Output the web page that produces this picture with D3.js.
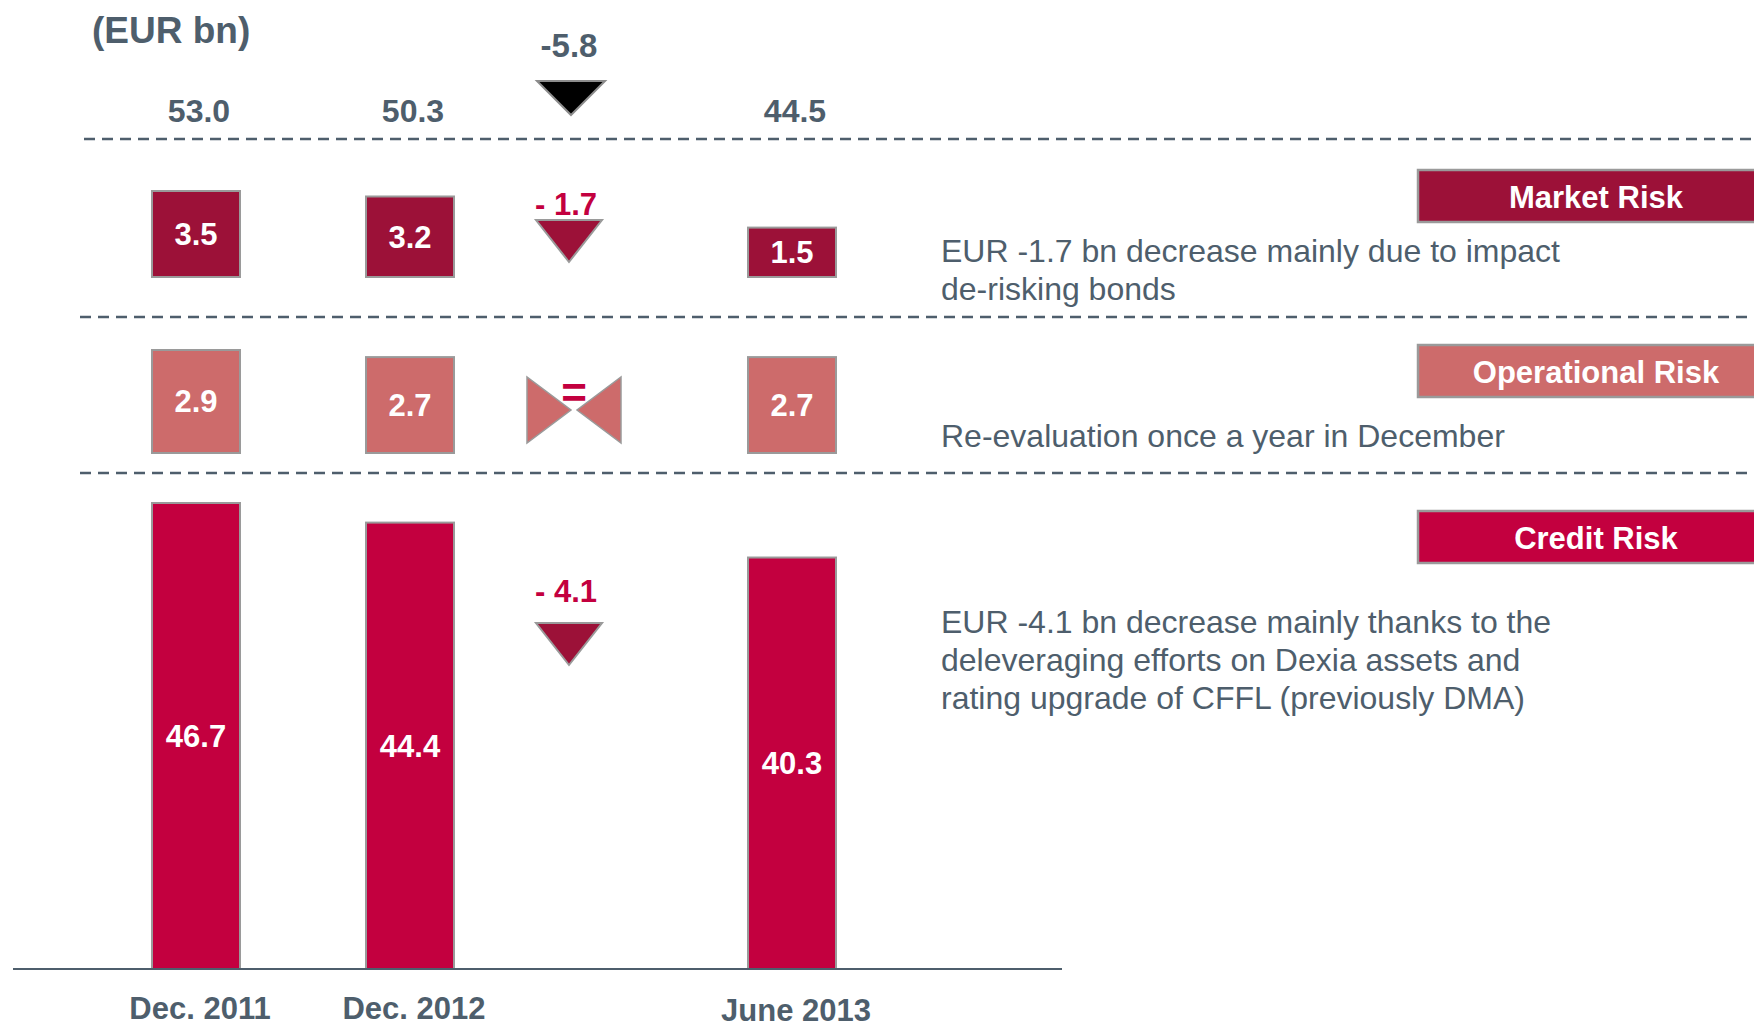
<!DOCTYPE html>
<html>
<head>
<meta charset="utf-8">
<script src="https://cdn.jsdelivr.net/npm/d3@7"></script>
<style>
    body { margin: 0; background: #fff; }
    svg { display: block; font-family: "Liberation Sans", Arial, sans-serif; }
</style>
</head>
<body>
<svg width="1754" height="1030"></svg>
<script>
// chart values
var periods = ["Dec. 2011", "Dec. 2012", "June 2013"];
var totals = [53.0, 50.3, 44.5];
var totalChange = -5.8;
var marketRisk = [3.5, 3.2, 1.5];
var operationalRisk = [2.9, 2.7, 2.7];
var creditRisk = [46.7, 44.4, 40.3];
var riskNames = ["Market Risk", "Operational Risk", "Credit Risk"];
var riskChanges = [-1.7, 0, -4.1];
var marketComment = ["EUR -1.7 bn decrease mainly due to impact", "de-risking bonds"];
var operationalComment = ["Re-evaluation once a year in December"];
var creditComment = ["EUR -4.1 bn decrease mainly thanks to the",
    "deleveraging efforts on Dexia assets and",
    "rating upgrade of CFFL (previously DMA)"];

var svg = d3.select("svg"),
    width = +svg.attr("width"),
    height = +svg.attr("height");

var slate = "#4e5e6c",
    red = "#c3003f",
    border = "#9a9a9a";

// column centres: three periods plus the change column
var x = d3.scaleOrdinal()
    .domain([periods[0], periods[1], "change", periods[2]])
    .range([196, 410, 571, 792]);
var barWidth = 88;

// one band per risk type, each with its own height scale
var rows = [
    {name: riskNames[0], values: marketRisk, change: riskChanges[0], comment: marketComment,
     color: "#9c1138", base: 277, h: d3.scaleLinear().domain([-1.2, 3.5]).range([0, 86]),
     labelY: 170, changeY: 204, triY: 220, commentY: 251},
    {name: riskNames[1], values: operationalRisk, change: riskChanges[1], comment: operationalComment,
     color: "#cd6b6b", base: 453, h: d3.scaleLinear().domain([0, 2.9]).range([0, 103]),
     labelY: 345, changeY: 410, triY: 0, commentY: 436},
    {name: riskNames[2], values: creditRisk, change: riskChanges[2], comment: creditComment,
     color: "#c3003f", base: 969, h: d3.scaleLinear().domain([-8, 46.7]).range([0, 466]),
     labelY: 511, changeY: 591, triY: 623, commentY: 622}
];

// dashed separators
var separators = [{y: 139, x1: 84}, {y: 317, x1: 80}, {y: 473, x1: 80}];
svg.selectAll(".sep")
    .data(separators)
    .enter().append("line")
    .attr("class", "sep")
    .attr("x1", function(d) { return d.x1; })
    .attr("x2", width)
    .attr("y1", function(d) { return d.y; })
    .attr("y2", function(d) { return d.y; })
    .attr("stroke", slate)
    .attr("stroke-width", 2.5)
    .attr("stroke-dasharray", "11,7");

// unit
svg.append("text")
    .attr("x", 92)
    .attr("y", 30)
    .attr("dy", ".35em")
    .attr("font-size", 37)
    .attr("font-weight", "bold")
    .attr("fill", slate)
    .text("(EUR bn)");

// totals
svg.selectAll(".total")
    .data(totals)
    .enter().append("text")
    .attr("class", "total")
    .attr("x", function(d, i) { return x(periods[i]) + 3; })
    .attr("y", 111)
    .attr("dy", ".35em")
    .attr("text-anchor", "middle")
    .attr("font-size", 32)
    .attr("font-weight", "bold")
    .attr("fill", slate)
    .text(function(d) { return d.toFixed(1); });

svg.append("text")
    .attr("x", x("change") - 2)
    .attr("y", 45)
    .attr("dy", ".35em")
    .attr("text-anchor", "middle")
    .attr("font-size", 33)
    .attr("font-weight", "bold")
    .attr("fill", slate)
    .text(totalChange.toFixed(1));

function downTriangle(cx, top, w, h) {
    return "M" + (cx - w / 2) + "," + top + "L" + (cx + w / 2) + "," + top + "L" + cx + "," + (top + h) + "Z";
}

svg.append("path")
    .attr("d", downTriangle(x("change"), 81, 68, 34))
    .attr("fill", "#000")
    .attr("stroke", "#8c8c8c")
    .attr("stroke-width", 2);

// bars, one group per risk row
rows.forEach(function(row) {
    var g = svg.append("g").attr("class", "row");

    g.selectAll("rect")
        .data(row.values)
        .enter().append("rect")
        .attr("x", function(d, i) { return x(periods[i]) - barWidth / 2; })
        .attr("y", function(d) { return row.base - row.h(d); })
        .attr("width", barWidth)
        .attr("height", function(d) { return row.h(d); })
        .attr("fill", row.color)
        .attr("stroke", border)
        .attr("stroke-width", 2);

    g.selectAll(".val")
        .data(row.values)
        .enter().append("text")
        .attr("class", "val")
        .attr("x", function(d, i) { return x(periods[i]); })
        .attr("y", function(d) { return row.base - row.h(d) / 2; })
        .attr("dy", ".35em")
        .attr("text-anchor", "middle")
        .attr("font-size", 31)
        .attr("font-weight", "bold")
        .attr("fill", "#fff")
        .text(function(d) { return d.toFixed(1); });

    // change marker
    var cx = x("change");
    if (row.change < 0) {
        g.append("text")
            .attr("x", cx - 5)
            .attr("y", row.changeY)
            .attr("dy", ".35em")
            .attr("text-anchor", "middle")
            .attr("font-size", 31)
            .attr("font-weight", "bold")
            .attr("fill", red)
            .text("- " + Math.abs(row.change).toFixed(1));
        g.append("path")
            .attr("d", downTriangle(cx - 2, row.triY, 66, 42))
            .attr("fill", "#9c1138")
            .attr("stroke", border)
            .attr("stroke-width", 2);
    } else {
        var cy = row.changeY, bx = cx + 3;
        g.append("path")
            .attr("d", "M" + (bx - 47) + "," + (cy - 33) + "L" + (bx - 47) + "," + (cy + 33) + "L" + (bx - 3) + "," + cy + "Z")
            .attr("fill", row.color)
            .attr("stroke", border)
            .attr("stroke-width", 1.5);
        g.append("path")
            .attr("d", "M" + (bx + 47) + "," + (cy - 33) + "L" + (bx + 47) + "," + (cy + 33) + "L" + (bx + 3) + "," + cy + "Z")
            .attr("fill", row.color)
            .attr("stroke", border)
            .attr("stroke-width", 1.5);
        g.append("text")
            .attr("x", bx)
            .attr("y", cy - 2)
            .attr("text-anchor", "middle")
            .attr("font-size", 44)
            .attr("font-weight", "bold")
            .attr("fill", red)
            .text("=");
    }

    // legend tag on the right
    g.append("rect")
        .attr("x", 1418)
        .attr("y", row.labelY)
        .attr("width", 360)
        .attr("height", 52)
        .attr("fill", row.color)
        .attr("stroke", border)
        .attr("stroke-width", 2.5);
    g.append("text")
        .attr("x", 1596)
        .attr("y", row.labelY + 27)
        .attr("dy", ".35em")
        .attr("text-anchor", "middle")
        .attr("font-size", 31)
        .attr("font-weight", "bold")
        .attr("fill", "#fff")
        .text(row.name);

    // comment
    g.selectAll(".comment")
        .data(row.comment)
        .enter().append("text")
        .attr("class", "comment")
        .attr("x", 941)
        .attr("y", function(d, i) { return row.commentY + i * 38; })
        .attr("dy", ".35em")
        .attr("font-size", 32)
        .attr("fill", slate)
        .text(function(d) { return d; });
});

// baseline
svg.append("line")
    .attr("x1", 13)
    .attr("x2", 1062)
    .attr("y1", 969)
    .attr("y2", 969)
    .attr("stroke", slate)
    .attr("stroke-width", 2);

// period labels
svg.selectAll(".period")
    .data(periods)
    .enter().append("text")
    .attr("class", "period")
    .attr("x", function(d) { return x(d) + 4; })
    .attr("y", function(d, i) { return i == 2 ? 1010 : 1008; })
    .attr("dy", ".35em")
    .attr("text-anchor", "middle")
    .attr("font-size", 31)
    .attr("font-weight", "bold")
    .attr("fill", slate)
    .text(function(d) { return d; });
</script>
</body>
</html>
